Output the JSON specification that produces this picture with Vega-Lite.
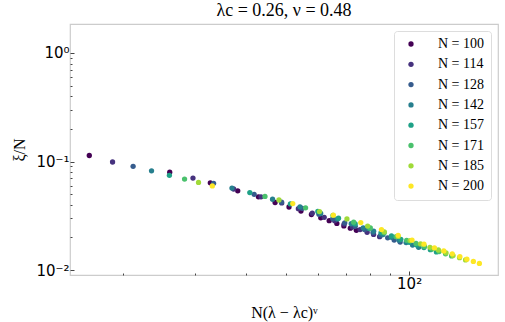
{
  "$schema": "https://vega.github.io/schema/vega-lite/v6.json",
  "width": 428,
  "height": 251,
  "autosize": {"type": "none"},
  "padding": {"left": 70, "top": 24, "right": 7, "bottom": 47},
  "background": "white",
  "title": {"text": "λc = 0.26, ν = 0.48", "font": "Liberation Serif", "fontSize": 18, "fontWeight": "normal", "color": "black", "anchor": "middle", "offset": 4},
  "config": {
    "view": {"stroke": "#cccccc", "strokeWidth": 1.2},
    "axis": {"domain": false, "grid": false, "tickColor": "#444", "labelColor": "black", "titleColor": "black", "labelFont": "DejaVu Sans", "labelFontSize": 15, "titleFont": "Liberation Serif", "titleFontSize": 16, "titleFontWeight": "normal"}
  },
  "data": {"values": [
    {"N":100,"x":16.5,"y":0.1136},{"N":100,"x":25.96,"y":0.0797},{"N":100,"x":32.63,"y":0.0636},{"N":100,"x":38.08,"y":0.0537},{"N":100,"x":42.79,"y":0.0473},{"N":100,"x":47.0,"y":0.0419},{"N":100,"x":50.83,"y":0.0381},{"N":100,"x":54.37,"y":0.0350},{"N":100,"x":57.67,"y":0.0325},{"N":100,"x":60.79,"y":0.0303},{"N":100,"x":63.75,"y":0.0285},{"N":100,"x":66.55,"y":0.0269},{"N":100,"x":69.24,"y":0.0255},{"N":100,"x":71.81,"y":0.0243},{"N":100,"x":74.29,"y":0.0232},
    {"N":114,"x":18.81,"y":0.0990},{"N":114,"x":29.59,"y":0.0703},{"N":114,"x":37.2,"y":0.0558},{"N":114,"x":43.41,"y":0.0473},{"N":114,"x":48.78,"y":0.0415},{"N":114,"x":53.58,"y":0.0368},{"N":114,"x":57.95,"y":0.0334},{"N":114,"x":61.98,"y":0.0306},{"N":114,"x":65.74,"y":0.0285},{"N":114,"x":69.3,"y":0.0265},{"N":114,"x":72.68,"y":0.0249},{"N":114,"x":75.87,"y":0.0236},{"N":114,"x":78.93,"y":0.0223},{"N":114,"x":81.86,"y":0.0213},{"N":114,"x":84.69,"y":0.0203},
    {"N":128,"x":21.12,"y":0.0903},{"N":128,"x":33.23,"y":0.0629},{"N":128,"x":41.77,"y":0.0498},{"N":128,"x":48.74,"y":0.0423},{"N":128,"x":54.77,"y":0.0370},{"N":128,"x":60.16,"y":0.0327},{"N":128,"x":65.06,"y":0.0297},{"N":128,"x":69.59,"y":0.0272},{"N":128,"x":73.82,"y":0.0253},{"N":128,"x":77.81,"y":0.0236},{"N":128,"x":81.6,"y":0.0222},{"N":128,"x":85.18,"y":0.0209},{"N":128,"x":88.63,"y":0.0198},{"N":128,"x":91.92,"y":0.0189},{"N":128,"x":95.09,"y":0.0181},
    {"N":142,"x":23.43,"y":0.0820},{"N":142,"x":36.86,"y":0.0569},{"N":142,"x":46.33,"y":0.0449},{"N":142,"x":54.07,"y":0.0382},{"N":142,"x":60.76,"y":0.0332},{"N":142,"x":66.74,"y":0.0295},{"N":142,"x":72.18,"y":0.0267},{"N":142,"x":77.21,"y":0.0245},{"N":142,"x":81.89,"y":0.0228},{"N":142,"x":86.32,"y":0.0212},{"N":142,"x":90.53,"y":0.0200},{"N":142,"x":94.5,"y":0.0188},{"N":142,"x":98.32,"y":0.0179},{"N":142,"x":101.97,"y":0.0170},{"N":142,"x":105.49,"y":0.0162},
    {"N":157,"x":25.91,"y":0.0746},{"N":157,"x":40.76,"y":0.0517},{"N":157,"x":51.23,"y":0.0407},{"N":157,"x":59.79,"y":0.0347},{"N":157,"x":67.18,"y":0.0300},{"N":157,"x":73.79,"y":0.0266},{"N":157,"x":79.8,"y":0.0241},{"N":157,"x":85.36,"y":0.0221},{"N":157,"x":90.54,"y":0.0206},{"N":157,"x":95.44,"y":0.0192},{"N":157,"x":100.09,"y":0.0180},{"N":157,"x":104.48,"y":0.0170},{"N":157,"x":108.71,"y":0.0161},{"N":157,"x":112.74,"y":0.0154},{"N":157,"x":116.64,"y":0.0147},
    {"N":171,"x":28.22,"y":0.0689},{"N":171,"x":44.39,"y":0.0477},{"N":171,"x":55.8,"y":0.0374},{"N":171,"x":65.12,"y":0.0319},{"N":171,"x":73.17,"y":0.0276},{"N":171,"x":80.37,"y":0.0244},{"N":171,"x":86.92,"y":0.0221},{"N":171,"x":92.97,"y":0.0203},{"N":171,"x":98.62,"y":0.0188},{"N":171,"x":103.95,"y":0.0176},{"N":171,"x":109.01,"y":0.0165},{"N":171,"x":113.8,"y":0.0156},{"N":171,"x":118.4,"y":0.0148},{"N":171,"x":122.8,"y":0.0141},{"N":171,"x":127.04,"y":0.0135},
    {"N":185,"x":30.53,"y":0.0641},{"N":185,"x":48.03,"y":0.0442},{"N":185,"x":60.37,"y":0.0346},{"N":185,"x":70.45,"y":0.0296},{"N":185,"x":79.16,"y":0.0254},{"N":185,"x":86.95,"y":0.0225},{"N":185,"x":94.04,"y":0.0204},{"N":185,"x":100.58,"y":0.0187},{"N":185,"x":106.69,"y":0.0174},{"N":185,"x":112.46,"y":0.0162},{"N":185,"x":117.94,"y":0.0153},{"N":185,"x":123.12,"y":0.0144},{"N":185,"x":128.09,"y":0.0136},{"N":185,"x":132.85,"y":0.0130},{"N":185,"x":137.44,"y":0.0124},
    {"N":200,"x":33.0,"y":0.0596},{"N":200,"x":51.92,"y":0.0410},{"N":200,"x":65.26,"y":0.0320},{"N":200,"x":76.16,"y":0.0274},{"N":200,"x":85.58,"y":0.0236},{"N":200,"x":94.0,"y":0.0209},{"N":200,"x":101.66,"y":0.0189},{"N":200,"x":108.74,"y":0.0173},{"N":200,"x":115.34,"y":0.0160},{"N":200,"x":121.58,"y":0.0150},{"N":200,"x":127.5,"y":0.0141},{"N":200,"x":133.1,"y":0.0133},{"N":200,"x":138.48,"y":0.0126},{"N":200,"x":143.62,"y":0.0120},{"N":200,"x":148.58,"y":0.0115}
  ]},
  "mark": {"type": "point", "filled": true, "opacity": 1, "size": 28},
  "encoding": {
    "x": {"field": "x", "type": "quantitative",
      "scale": {"type": "log", "domain": [14.8, 165], "nice": false},
      "axis": {"title": "N(λ − λc)ᵛ", "values": [20,30,40,50,60,70,80,90,100],
        "labelExpr": "datum.value == 100 ? '10²' : ''",
        "tickSize": {"condition": {"test": "datum.value == 100", "value": -4}, "value": -2},
        "labelPadding": 5, "titlePadding": 13}},
    "y": {"field": "y", "type": "quantitative",
      "scale": {"type": "log", "domain": [0.009, 1.85], "nice": false},
      "axis": {"title": "ξ/N", "values": [0.01,0.02,0.03,0.04,0.05,0.06,0.07,0.08,0.09,0.1,0.2,0.3,0.4,0.5,0.6,0.7,0.8,0.9,1],
        "labelExpr": "datum.value == 1 ? '10⁰' : datum.value == 0.1 ? '10⁻¹' : datum.value == 0.01 ? '10⁻²' : ''",
        "tickSize": {"condition": {"test": "datum.value == 1 || datum.value == 0.1 || datum.value == 0.01", "value": -4}, "value": -2},
        "labelPadding": 5, "titlePadding": 8}},
    "color": {"field": "N", "type": "ordinal",
      "scale": {"domain": [100,114,128,142,157,171,185,200], "range": ["#440154","#46327e","#365c8d","#277f8e","#1fa187","#4ac16d","#a0da39","#fde725"]},
      "legend": {"title": null, "orient": "top-right", "offset": 7, "labelExpr": "'N = ' + datum.label",
        "labelFont": "Liberation Serif", "labelFontSize": 14, "labelColor": "black",
        "symbolType": "circle", "symbolSize": 28, "symbolStrokeWidth": 0,
        "padding": 6, "rowPadding": 6.3, "labelOffset": 20, "symbolOffset": 4,
        "fillColor": "white", "strokeColor": "#dddddd", "cornerRadius": 3}}
  }
}
